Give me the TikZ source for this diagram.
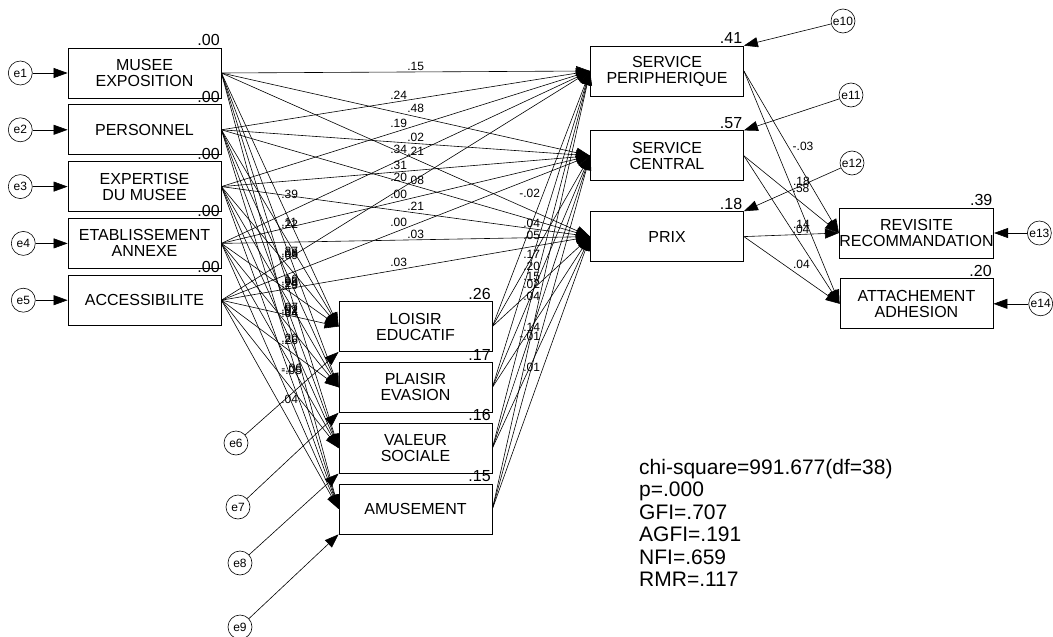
\documentclass[tikz,border=0pt]{standalone}
\usepackage{fontspec}
\setmainfont{Liberation Sans}
\usetikzlibrary{arrows.meta,positioning}

\begin{document}
\begin{tikzpicture}[x=1pt, y=1pt,
  var/.style={rectangle, draw, line width=0.8pt, minimum width=153pt, minimum height=50pt, inner sep=0pt, align=center, font=\fontsize{16}{16}\selectfont},
  err/.style={circle, draw, line width=0.6pt, minimum size=24pt, inner sep=0pt, font=\fontsize{12}{12}\selectfont},
  arr/.style={-{Triangle[length=14pt, width=10pt]}, line width=0.6pt},
  rsq/.style={anchor=south east, inner sep=1.5pt, font=\fontsize{16}{16}\selectfont},
  lbl/.style={midway, inner sep=1pt, font=\fontsize{12}{12}\selectfont},
  lblw/.style={lbl, above, xshift=-7pt},
  lble/.style={lbl, above, xshift=10pt}
]
\useasboundingbox (0,0) rectangle (1053,-637);

\node[var] (me) at (144.5,-73) {MUSEE\\EXPOSITION};
\node[var, below=6pt of me] (pe) {PERSONNEL};
\node[var, below=6pt of pe] (ex) {EXPERTISE\\DU MUSEE};
\node[var, below=6pt of ex] (et) {ETABLISSEMENT\\ANNEXE};
\node[var, below=6pt of et] (ac) {ACCESSIBILITE};

\node[var] (lo) at (415.5,-326.5) {LOISIR\\EDUCATIF};
\node[var, below=10pt of lo] (pl) {PLAISIR\\EVASION};
\node[var, below=10pt of pl] (va) {VALEUR\\SOCIALE};
\node[var, below=10pt of va] (am) {AMUSEMENT};

\node[var] (sp) at (667,-71) {SERVICE\\PERIPHERIQUE};
\node[var, below=34pt of sp] (sc) {SERVICE\\CENTRAL};
\node[var, below=30pt of sc] (pr) {PRIX};

\node[var] (rv) at (916.5,-233) {REVISITE\\RECOMMANDATION};
\node[var, below=20pt of rv] (att) {ATTACHEMENT\\ADHESION};

\node[rsq] (rme) at (me.north east) {.00};
\node[rsq] (rpe) at (pe.north east) {.00};
\node[rsq] (rex) at (ex.north east) {.00};
\node[rsq] (ret) at (et.north east) {.00};
\node[rsq] (rac) at (ac.north east) {.00};
\node[rsq] (rlo) at (lo.north east) {.26};
\node[rsq] (rpl) at (pl.north east) {.17};
\node[rsq] (rva) at (va.north east) {.16};
\node[rsq] (ram) at (am.north east) {.15};
\node[rsq] (rsp) at (sp.north east) {.41};
\node[rsq] (rsc) at (sc.north east) {.57};
\node[rsq] (rpr) at (pr.north east) {.18};
\node[rsq] (rrv) at (rv.north east) {.39};
\node[rsq] (ratt) at (att.north east) {.20};

\node[err, left=35pt of me] (e1) {e1};
\node[err, left=35pt of pe] (e2) {e2};
\node[err, left=35pt of ex] (e3) {e3};
\node[err, left=32pt of et] (e4) {e4};
\node[err, left=32pt of ac] (e5) {e5};
\node[err] (e6) at (236,-443) {e6};
\node[err] (e7) at (238,-507) {e7};
\node[err] (e8) at (240,-563) {e8};
\node[err] (e9) at (240,-627) {e9};
\node[err] (e10) at (843,-21) {e10};
\node[err] (e11) at (851,-95) {e11};
\node[err] (e12) at (852,-163) {e12};
\node[err, right=33pt of rv] (e13) {e13};
\node[err, right=35pt of att] (e14) {e14};

\draw[arr] (e1) -- (me);
\draw[arr] (e2) -- (pe);
\draw[arr] (e3) -- (ex);
\draw[arr] (e4) -- (et);
\draw[arr] (e5) -- (ac);
\draw[arr] (e6) -- (lo.south west);
\draw[arr] (e7) -- (pl.south west);
\draw[arr] (e8) -- (va.south west);
\draw[arr] (e9) -- (am.south west);
\draw[arr] (e10) -- (sp.north east);
\draw[arr] (e11) -- (sc.north east);
\draw[arr] (e12) -- (pr.north east);
\draw[arr] (e13) -- (rv);
\draw[arr] (e14) -- (att);

\draw[arr] (me.east) -- (sp.west) node[lble] {.15};
\draw[arr] (me.east) -- (sc.west) node[lble] {.48};
\draw[arr] (me.east) -- (pr.west) node[lblw] {.34};
\draw[arr] (pe.east) -- (sp.west) node[lblw] {.24};
\draw[arr] (pe.east) -- (sc.west) node[lble] {.02};
\draw[arr] (pe.east) -- (pr.west) node[lblw] {.20};
\draw[arr] (ex.east) -- (sp.west) node[lblw] {.19};
\draw[arr] (ex.east) -- (sc.west) node[lblw] {.31};
\draw[arr] (ex.east) -- (pr.west) node[lble] {.21};
\draw[arr] (et.east) -- (sp.west) node[lble] {.21};
\draw[arr] (et.east) -- (sc.west) node[lblw] {.00};
\draw[arr] (et.east) -- (pr.west) node[lble] {.03};
\draw[arr] (ac.east) -- (sp.west) node[lble] {.08};
\draw[arr] (ac.east) -- (sc.west) node[lblw] {.00};
\draw[arr] (ac.east) -- (pr.west) node[lblw] {.03};

\draw[arr] (me.east) -- (lo.west) node[lbl, above right] {.39};
\draw[arr] (me.east) -- (pl.west) node[lbl, above right] {.22};
\draw[arr] (me.east) -- (va.west) node[lbl, above right] {.09};
\draw[arr] (me.east) -- (am.west) node[lbl, above right] {.29};
\draw[arr] (pe.east) -- (lo.west) node[lbl, above right] {.11};
\draw[arr] (pe.east) -- (pl.west) node[lbl, above right] {.08};
\draw[arr] (pe.east) -- (va.west) node[lbl, above right] {.24};
\draw[arr] (pe.east) -- (am.west) node[lbl, above right] {.04};
\draw[arr] (ex.east) -- (lo.west) node[lbl, above right] {.27};
\draw[arr] (ex.east) -- (pl.west) node[lbl, above right] {.06};
\draw[arr] (ex.east) -- (va.west) node[lbl, above right] {.02};
\draw[arr] (ex.east) -- (am.west);
\draw[arr] (et.east) -- (lo.west) node[lbl, above right] {.16};
\draw[arr] (et.east) -- (pl.west) node[lbl, above right] {.02};
\draw[arr] (et.east) -- (va.west) node[lbl, above right] {.26};
\draw[arr] (et.east) -- (am.west) node[lbl, above right] {-.05};
\draw[arr] (ac.east) -- (lo.west) node[lbl, above right] {.07};
\draw[arr] (ac.east) -- (pl.west) node[lbl, above right] {.20};
\draw[arr] (ac.east) -- (va.west) node[lbl, above right] {-.06};
\draw[arr] (ac.east) -- (am.west) node[lbl, above right] {.04};

\draw[arr] (lo.east) -- (sp.west) node[lbl, above left] {-.02};
\draw[arr] (lo.east) -- (sc.west) node[lbl, above left] {.05};
\draw[arr] (lo.east) -- (pr.west) node[lbl, above left] {.15};
\draw[arr] (pl.east) -- (sp.west) node[lbl, above left] {.04};
\draw[arr] (pl.east) -- (sc.west) node[lbl, above left] {.20};
\draw[arr] (pl.east) -- (pr.west);
\draw[arr] (va.east) -- (sp.west) node[lbl, above left] {.17};
\draw[arr] (va.east) -- (sc.west) node[lbl, above left] {.04};
\draw[arr] (va.east) -- (pr.west) node[lbl, above left] {-.01};
\draw[arr] (am.east) -- (sp.west) node[lbl, above left] {.02};
\draw[arr] (am.east) -- (sc.west) node[lbl, above left] {.14};
\draw[arr] (am.east) -- (pr.west) node[lbl, above left] {.01};

\draw[arr] (sp.east) -- (rv.west) node[lbl, above right] {-.03};
\draw[arr] (sp.east) -- (att.west) node[lbl, above right] {.18};
\draw[arr] (sc.east) -- (rv.west) node[lbl, above right] {.58};
\draw[arr] (sc.east) -- (att.west) node[lbl, above right] {.14};
\draw[arr] (pr.east) -- (rv.west) node[lbl, above right] {.04};
\draw[arr] (pr.east) -- (att.west) node[lbl, above right] {.04};

\node[anchor=north west, align=left, inner sep=0pt, font=\fontsize{21}{22.4}\selectfont] (fit) at (639,-459) {chi-square=991.677(df=38)\\p=.000\\GFI=.707\\AGFI=.191\\NFI=.659\\RMR=.117};

\end{tikzpicture}
\end{document}
